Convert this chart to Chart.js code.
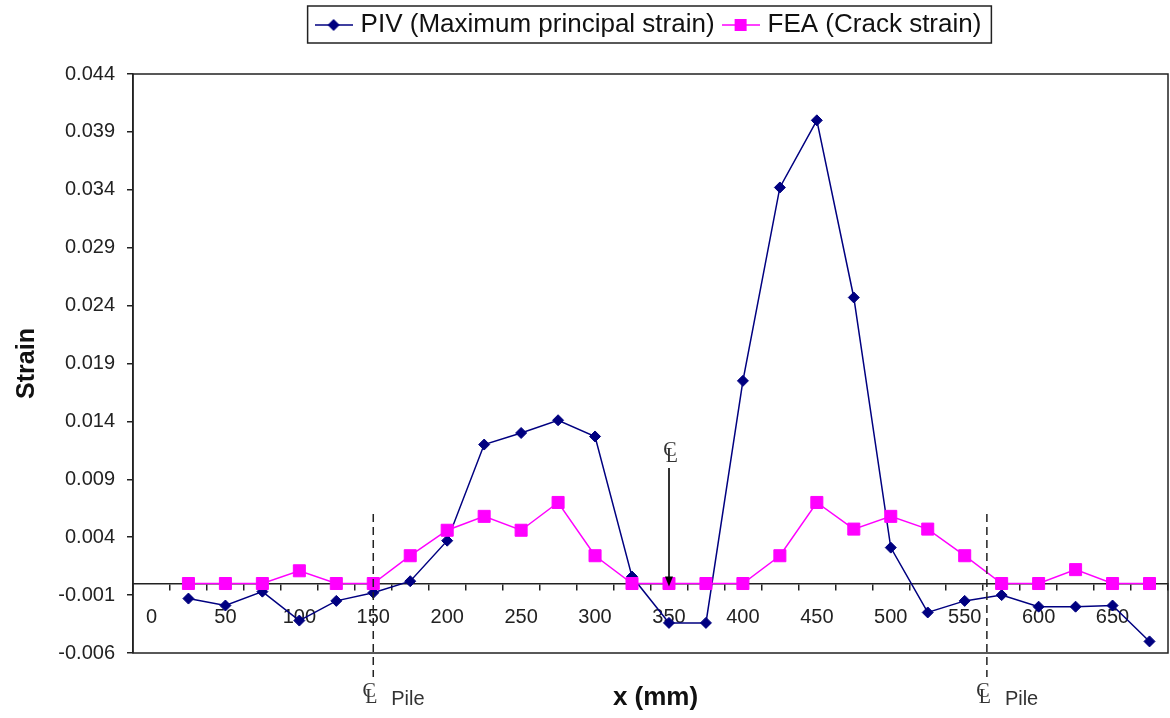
<!DOCTYPE html>
<html>
<head>
<meta charset="utf-8">
<title>Strain along x</title>
<script src="https://cdn.jsdelivr.net/npm/chart.js@4.4.1/dist/chart.umd.min.js"></script>
<style>
	html, body { margin: 0; padding: 0; background: #fff; }
	#wrap { width: 1170px; height: 718px; }
</style>
</head>
<body>
<div id="wrap"><canvas id="strain-chart" width="1170" height="718"></canvas></div>
<script>
(function () {
	'use strict';

	// measurement positions along the beam (mm)
	var xPositions = [25, 50, 75, 100, 125, 150, 175, 200, 225, 250, 275, 300, 325, 350,
		375, 400, 425, 450, 475, 500, 525, 550, 575, 600, 625, 650, 675];

	// PIV maximum principal strain
	var pivStrain = [-0.0013, -0.0019, -0.0007, -0.0032, -0.0015, -0.0008, 0.0002, 0.0037,
		0.0120, 0.0130, 0.0141, 0.0127, 0.0006, -0.0034, -0.0034, 0.0175, 0.0342, 0.0400,
		0.0247, 0.0031, -0.0025, -0.0015, -0.0010, -0.0020, -0.0020, -0.0019, -0.0050];

	// FEA crack strain
	var feaStrain = [0, 0, 0, 0.0011, 0, 0, 0.0024, 0.0046, 0.0058, 0.0046, 0.0070, 0.0024,
		0, 0, 0, 0, 0.0024, 0.0070, 0.0047, 0.0058, 0.0047, 0.0024, 0, 0, 0.0012, 0, 0];

	// axis ticks
	var xTickValues = [0, 25, 50, 75, 100, 125, 150, 175, 200, 225, 250, 275, 300, 325, 350,
		375, 400, 425, 450, 475, 500, 525, 550, 575, 600, 625, 650, 675];
	var xTickLabels = [0, 50, 100, 150, 200, 250, 300, 350, 400, 450, 500, 550, 600, 650];
	var yTickValues = [-0.006, -0.001, 0.004, 0.009, 0.014, 0.019, 0.024, 0.029, 0.034, 0.039, 0.044];

	// centre line markers
	var pileLines = [150, 565];
	var beamCentre = 350;

	var NAVY = '#000080';
	var MAGENTA = '#ff00ff';
	var INK = '#222';

	function toPoints(values) {
		return values.map(function (v, i) {
			return { x: xPositions[i], y: v };
		});
	}

	/**
	 * Legend sample: short line with the marker in the middle
	 */
	function makeSample(color, shape) {
		var c = document.createElement('canvas');
		c.width = 38;
		c.height = 16;
		var g = c.getContext('2d');
		g.strokeStyle = color;
		g.fillStyle = color;
		g.lineWidth = 1.5;
		g.beginPath();
		g.moveTo(0, 8);
		g.lineTo(38, 8);
		g.stroke();
		g.beginPath();
		if (shape === 'diamond') {
			g.moveTo(19, 2);
			g.lineTo(25, 8);
			g.lineTo(19, 14);
			g.lineTo(13, 8);
			g.closePath();
		} else {
			g.rect(13, 2, 12, 12);
		}
		g.fill();
		return c;
	}

	var samples = [makeSample(NAVY, 'diamond'), makeSample(MAGENTA, 'square')];

	function drawCentreSymbol(ctx, cx, baseY) {
		ctx.font = '20px "Liberation Serif"';
		ctx.textAlign = 'center';
		ctx.textBaseline = 'alphabetic';
		ctx.fillText('C', cx - 1, baseY - 6);
		ctx.fillText('L', cx + 1, baseY);
	}

	/**
	 * Leave a gap between the legend and the plot area
	 */
	var legendGap = {
		id: 'legendGap',
		beforeLayout: function (chart) {
			var legend = chart.legend;
			if (!legend || legend._gapAdded) {
				return;
			}
			var fit = legend.fit;
			legend.fit = function () {
				fit.call(this);
				this.height += 26;
			};
			legend._gapAdded = true;
		}
	};

	/**
	 * Plot frame, legend box, pile and centre line annotations, x title
	 */
	var extras = {
		id: 'extras',
		afterDatasetsDraw: function (chart) {
			var ctx = chart.ctx;
			var area = chart.chartArea;
			var sx = chart.scales.x;
			var sy = chart.scales.y;

			ctx.save();
			ctx.strokeStyle = INK;
			ctx.fillStyle = '#333';
			ctx.lineWidth = 1.5;
			ctx.strokeRect(area.left, area.top, area.right - area.left, area.bottom - area.top);

			// pile centre lines
			ctx.setLineDash([8, 5]);
			pileLines.forEach(function (v) {
				var px = sx.getPixelForValue(v);
				ctx.beginPath();
				ctx.moveTo(px, sy.getPixelForValue(0.006));
				ctx.lineTo(px, area.bottom + 24);
				ctx.stroke();
			});
			ctx.setLineDash([]);
			pileLines.forEach(function (v) {
				var px = sx.getPixelForValue(v);
				drawCentreSymbol(ctx, px - 3, area.bottom + 50);
				ctx.font = '20px "Liberation Sans"';
				ctx.textAlign = 'left';
				ctx.fillText('Pile', px + 18, area.bottom + 52);
			});

			// beam centre arrow
			var cx = sx.getPixelForValue(beamCentre);
			var tip = sy.getPixelForValue(0) + 3;
			drawCentreSymbol(ctx, cx + 2, 462);
			ctx.strokeStyle = '#333';
			ctx.lineWidth = 2;
			ctx.beginPath();
			ctx.moveTo(cx, 468);
			ctx.lineTo(cx, tip - 8);
			ctx.stroke();
			ctx.fillStyle = '#000';
			ctx.beginPath();
			ctx.moveTo(cx - 4, tip - 10);
			ctx.lineTo(cx + 4, tip - 10);
			ctx.lineTo(cx, tip);
			ctx.closePath();
			ctx.fill();

			// x axis title
			ctx.fillStyle = '#111';
			ctx.font = 'bold 26px "Liberation Sans"';
			ctx.textAlign = 'center';
			ctx.fillText('x (mm)', (area.left + area.right) / 2 + 5, area.bottom + 52);
			ctx.restore();
		},
		afterDraw: function (chart) {
			var boxes = chart.legend.legendHitBoxes;
			if (!boxes || !boxes.length) {
				return;
			}
			var first = boxes[0];
			var last = boxes[boxes.length - 1];
			var ctx = chart.ctx;
			ctx.save();
			ctx.strokeStyle = INK;
			ctx.lineWidth = 1.5;
			var left = first.left - 12;
			var right = last.left + last.width + 10;
			var top = first.top - 6;
			var bottom = first.top + first.height + 5;
			ctx.strokeRect(left, top, right - left, bottom - top);
			ctx.restore();
		}
	};

	new Chart(document.getElementById('strain-chart'), {
		type: 'line',
		data: {
			datasets: [
				{
					label: 'PIV (Maximum principal strain)',
					data: toPoints(pivStrain),
					borderColor: NAVY,
					backgroundColor: NAVY,
					borderWidth: 1.5,
					pointStyle: 'rectRot',
					pointRadius: 5.5,
					pointBorderWidth: 1,
					tension: 0,
					order: 1
				},
				{
					label: 'FEA (Crack strain)',
					data: toPoints(feaStrain),
					borderColor: MAGENTA,
					backgroundColor: MAGENTA,
					borderWidth: 1.5,
					pointStyle: 'rect',
					pointRadius: 8.5,
					pointBorderWidth: 1,
					tension: 0,
					order: 0
				}
			]
		},
		options: {
			responsive: false,
			animation: false,
			devicePixelRatio: 1,
			layout: {
				autoPadding: false,
				padding: { top: 0, right: 2, bottom: 65, left: 0 }
			},
			plugins: {
				legend: {
					display: true,
					position: 'top',
					fullSize: false,
					labels: {
						usePointStyle: true,
						pointStyleWidth: 28,
						padding: 12,
						color: '#111',
						font: { family: '"Liberation Sans", Arial, sans-serif', size: 26 },
						sort: function (a, b) {
							return a.datasetIndex - b.datasetIndex;
						},
						generateLabels: function (chart) {
							var items = Chart.defaults.plugins.legend.labels.generateLabels(chart);
							items.forEach(function (item) {
								item.pointStyle = samples[item.datasetIndex];
							});
							return items;
						}
					}
				},
				tooltip: { enabled: false }
			},
			scales: {
				x: {
					type: 'linear',
					position: { y: 0 },
					min: -12.5,
					max: 687.5,
					afterBuildTicks: function (scale) {
						scale.ticks = xTickValues.map(function (v) {
							return { value: v };
						});
					},
					afterFit: function (scale) {
						scale.paddingLeft = 0;
						scale.paddingRight = 0;
					},
					grid: {
						drawOnChartArea: false,
						drawTicks: true,
						tickLength: 6,
						offset: true,
						color: INK,
						lineWidth: 1.5
					},
					border: { display: true, color: INK, width: 1.5 },
					ticks: {
						autoSkip: false,
						maxRotation: 0,
						padding: 16,
						color: INK,
						font: { family: '"Liberation Sans", Arial, sans-serif', size: 20 },
						callback: function (value) {
							return xTickLabels.indexOf(value) >= 0 ? String(value) : '';
						}
					}
				},
				y: {
					type: 'linear',
					position: 'left',
					min: -0.006,
					max: 0.044,
					afterBuildTicks: function (scale) {
						scale.ticks = yTickValues.map(function (v) {
							return { value: v };
						});
					},
					afterFit: function (scale) {
						scale.width = 133;
					},
					grid: {
						drawOnChartArea: false,
						drawTicks: true,
						tickLength: 6,
						color: INK,
						lineWidth: 1.5
					},
					border: { display: true, color: INK, width: 1.5 },
					ticks: {
						padding: 12,
						color: INK,
						font: { family: '"Liberation Sans", Arial, sans-serif', size: 20 },
						callback: function (value) {
							return value.toFixed(3);
						}
					},
					title: {
						display: true,
						text: 'Strain',
						color: '#111',
						padding: { top: 12, bottom: 0 },
						font: { family: '"Liberation Sans", Arial, sans-serif', size: 25, weight: 'bold' }
					}
				}
			}
		},
		plugins: [legendGap, extras]
	});
})();
</script>
</body>
</html>
